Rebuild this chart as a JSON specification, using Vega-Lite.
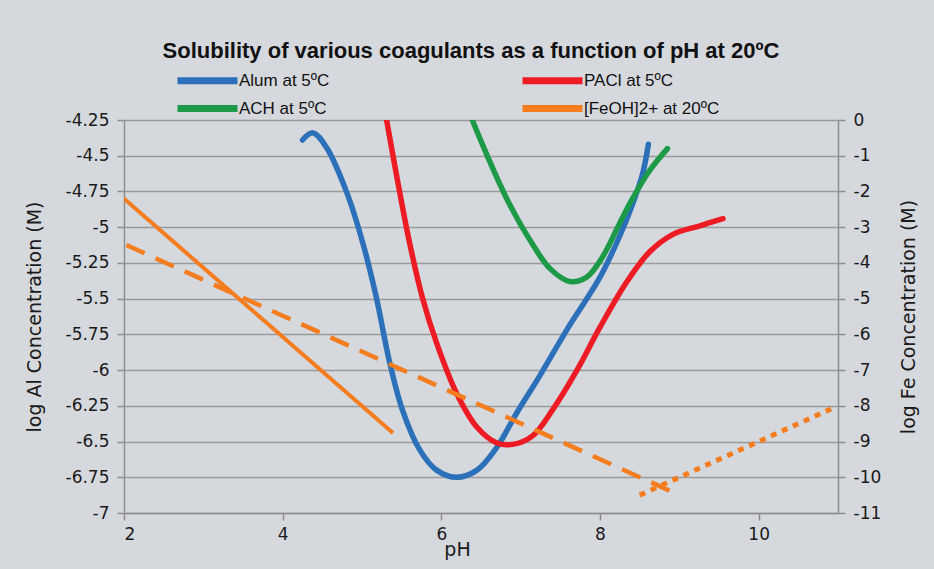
{
  "$schema": "https://vega.github.io/schema/vega-lite/v6.json",
  "width": 714,
  "height": 393,
  "autosize": "none",
  "padding": {"left": 124, "top": 120, "right": 96, "bottom": 56},
  "background": "#d5d8dd",
  "title": {
    "text": "Solubility of various coagulants as a function of pH at 20ºC",
    "font": "Liberation Sans",
    "fontSize": 22,
    "fontWeight": "bold",
    "color": "#111111",
    "anchor": "middle",
    "dx": -10,
    "offset": 4
  },
  "datasets": {
    "al": [
      {"series": "Alum at 5ºC", "i": 1, "pH": 4.25, "logAl": -4.39},
      {"series": "Alum at 5ºC", "i": 2, "pH": 4.38, "logAl": -4.34},
      {"series": "Alum at 5ºC", "i": 3, "pH": 4.55, "logAl": -4.44},
      {"series": "Alum at 5ºC", "i": 4, "pH": 4.81, "logAl": -4.76},
      {"series": "Alum at 5ºC", "i": 5, "pH": 5.01, "logAl": -5.11},
      {"series": "Alum at 5ºC", "i": 6, "pH": 5.18, "logAl": -5.49},
      {"series": "Alum at 5ºC", "i": 7, "pH": 5.35, "logAl": -5.95},
      {"series": "Alum at 5ºC", "i": 8, "pH": 5.51, "logAl": -6.28},
      {"series": "Alum at 5ºC", "i": 9, "pH": 5.73, "logAl": -6.56},
      {"series": "Alum at 5ºC", "i": 10, "pH": 5.94, "logAl": -6.70},
      {"series": "Alum at 5ºC", "i": 11, "pH": 6.19, "logAl": -6.75},
      {"series": "Alum at 5ºC", "i": 12, "pH": 6.45, "logAl": -6.70},
      {"series": "Alum at 5ºC", "i": 13, "pH": 6.70, "logAl": -6.54},
      {"series": "Alum at 5ºC", "i": 14, "pH": 6.95, "logAl": -6.30},
      {"series": "Alum at 5ºC", "i": 15, "pH": 7.24, "logAl": -6.04},
      {"series": "Alum at 5ºC", "i": 16, "pH": 7.58, "logAl": -5.72},
      {"series": "Alum at 5ºC", "i": 17, "pH": 8.00, "logAl": -5.35},
      {"series": "Alum at 5ºC", "i": 18, "pH": 8.25, "logAl": -5.06},
      {"series": "Alum at 5ºC", "i": 19, "pH": 8.41, "logAl": -4.84},
      {"series": "Alum at 5ºC", "i": 20, "pH": 8.54, "logAl": -4.62},
      {"series": "Alum at 5ºC", "i": 21, "pH": 8.61, "logAl": -4.42},
      {"series": "PACl at 5ºC", "i": 1, "pH": 5.31, "logAl": -4.25},
      {"series": "PACl at 5ºC", "i": 2, "pH": 5.44, "logAl": -4.65},
      {"series": "PACl at 5ºC", "i": 3, "pH": 5.60, "logAl": -5.11},
      {"series": "PACl at 5ºC", "i": 4, "pH": 5.76, "logAl": -5.49},
      {"series": "PACl at 5ºC", "i": 5, "pH": 5.94, "logAl": -5.81},
      {"series": "PACl at 5ºC", "i": 6, "pH": 6.19, "logAl": -6.16},
      {"series": "PACl at 5ºC", "i": 7, "pH": 6.45, "logAl": -6.40},
      {"series": "PACl at 5ºC", "i": 8, "pH": 6.70, "logAl": -6.51},
      {"series": "PACl at 5ºC", "i": 9, "pH": 6.90, "logAl": -6.52},
      {"series": "PACl at 5ºC", "i": 10, "pH": 7.15, "logAl": -6.46},
      {"series": "PACl at 5ºC", "i": 11, "pH": 7.40, "logAl": -6.28},
      {"series": "PACl at 5ºC", "i": 12, "pH": 7.71, "logAl": -6.00},
      {"series": "PACl at 5ºC", "i": 13, "pH": 8.00, "logAl": -5.70},
      {"series": "PACl at 5ºC", "i": 14, "pH": 8.34, "logAl": -5.38},
      {"series": "PACl at 5ºC", "i": 15, "pH": 8.63, "logAl": -5.17},
      {"series": "PACl at 5ºC", "i": 16, "pH": 8.92, "logAl": -5.05},
      {"series": "PACl at 5ºC", "i": 17, "pH": 9.26, "logAl": -4.99},
      {"series": "PACl at 5ºC", "i": 18, "pH": 9.55, "logAl": -4.94},
      {"series": "ACH at 5ºC", "i": 1, "pH": 6.39, "logAl": -4.25},
      {"series": "ACH at 5ºC", "i": 2, "pH": 6.61, "logAl": -4.54},
      {"series": "ACH at 5ºC", "i": 3, "pH": 6.86, "logAl": -4.84},
      {"series": "ACH at 5ºC", "i": 4, "pH": 7.15, "logAl": -5.12},
      {"series": "ACH at 5ºC", "i": 5, "pH": 7.37, "logAl": -5.29},
      {"series": "ACH at 5ºC", "i": 6, "pH": 7.62, "logAl": -5.38},
      {"series": "ACH at 5ºC", "i": 7, "pH": 7.83, "logAl": -5.35},
      {"series": "ACH at 5ºC", "i": 8, "pH": 8.03, "logAl": -5.21},
      {"series": "ACH at 5ºC", "i": 9, "pH": 8.25, "logAl": -4.97},
      {"series": "ACH at 5ºC", "i": 10, "pH": 8.41, "logAl": -4.80},
      {"series": "ACH at 5ºC", "i": 11, "pH": 8.63, "logAl": -4.60},
      {"series": "ACH at 5ºC", "i": 12, "pH": 8.85, "logAl": -4.45}
    ],
    "fe": [
      {"series": "[FeOH]2+ at 20ºC", "style": "solid", "pH": 2.0, "logFe": -2.2},
      {"series": "[FeOH]2+ at 20ºC", "style": "solid", "pH": 5.39, "logFe": -8.76},
      {"series": "[FeOH]2+ at 20ºC", "style": "dashed", "pH": 2.03, "logFe": -3.5},
      {"series": "[FeOH]2+ at 20ºC", "style": "dashed", "pH": 8.98, "logFe": -10.48},
      {"series": "[FeOH]2+ at 20ºC", "style": "dotted", "pH": 8.5, "logFe": -10.5},
      {"series": "[FeOH]2+ at 20ºC", "style": "dotted", "pH": 10.95, "logFe": -8.05}
    ]
  },
  "layer": [
    {
      "data": {"name": "al"},
      "mark": {"type": "line", "strokeWidth": 5.5, "interpolate": "catmull-rom", "strokeCap": "round", "clip": true},
      "encoding": {
        "x": {
          "field": "pH", "type": "quantitative",
          "scale": {"domain": [2, 11], "nice": false, "zero": false},
          "axis": {
            "values": [2, 4, 6, 8, 10], "grid": false, "title": "pH",
            "labelExpr": "'' + datum.value",
            "titleX": 333, "titleY": 42, "titleAlign": "center", "titleBaseline": "alphabetic",
            "labelPadding": 6
          }
        },
        "y": {
          "field": "logAl", "type": "quantitative",
          "scale": {"domain": [-7, -4.25], "nice": false, "zero": false},
          "axis": {
            "values": [-7, -6.75, -6.5, -6.25, -6, -5.75, -5.5, -5.25, -5, -4.75, -4.5, -4.25],
            "labelExpr": "'' + datum.value",
            "title": "log Al Concentration (M)",
            "grid": true, "titlePadding": 21, "labelPadding": 8
          }
        },
        "color": {
          "field": "series", "type": "nominal",
          "scale": {
            "domain": ["Alum at 5ºC", "ACH at 5ºC", "PACl at 5ºC", "[FeOH]2+ at 20ºC"],
            "range": ["#2b70b9", "#1d9a48", "#ed1c24", "#f47d20"]
          },
          "legend": {
            "title": null, "orient": "none", "legendX": 70, "legendY": -53,
            "columns": 2, "columnPadding": 178, "rowPadding": -11,
            "symbolType": "M-3,0H3", "symbolSize": 400, "symbolStrokeWidth": 7,
            "labelFont": "Liberation Sans", "labelFontSize": 17, "labelColor": "#111111",
            "labelOffset": 18, "labelLimit": 300
          }
        },
        "order": {"field": "i", "type": "quantitative"}
      }
    },
    {
      "data": {"name": "fe"},
      "mark": {"type": "line", "strokeCap": "butt", "clip": true},
      "encoding": {
        "x": {"field": "pH", "type": "quantitative", "scale": {"domain": [2, 11], "nice": false, "zero": false}},
        "y": {
          "field": "logFe", "type": "quantitative",
          "scale": {"domain": [-11, 0], "nice": false, "zero": false},
          "axis": {
            "orient": "right",
            "values": [-11, -10, -9, -8, -7, -6, -5, -4, -3, -2, -1, 0],
            "labelExpr": "'' + datum.value",
            "title": "log Fe Concentration (M)", "titleAngle": 270,
            "grid": false, "titlePadding": 38, "labelPadding": 8
          }
        },
        "color": {"field": "series", "type": "nominal"},
        "strokeDash": {
          "field": "style", "type": "nominal",
          "scale": {"domain": ["solid", "dashed", "dotted"], "range": [[1, 0], [20, 12], [6, 6]]},
          "legend": null
        },
        "strokeWidth": {
          "field": "style", "type": "nominal",
          "scale": {"domain": ["solid", "dashed", "dotted"], "range": [4, 5, 6]},
          "legend": null
        }
      }
    }
  ],
  "resolve": {"scale": {"y": "independent"}},
  "config": {
    "view": {"stroke": null},
    "axis": {
      "domainColor": "#8e8e8e", "domainWidth": 1.5,
      "tickColor": "#8e8e8e", "tickWidth": 1.5, "tickSize": 7,
      "gridColor": "#9a9a9a", "gridWidth": 1.5,
      "labelFont": "DejaVu Sans", "labelFontSize": 17, "labelColor": "#1a1a1a",
      "titleFont": "DejaVu Sans", "titleFontSize": 19, "titleFontWeight": "normal", "titleColor": "#1a1a1a"
    }
  }
}
